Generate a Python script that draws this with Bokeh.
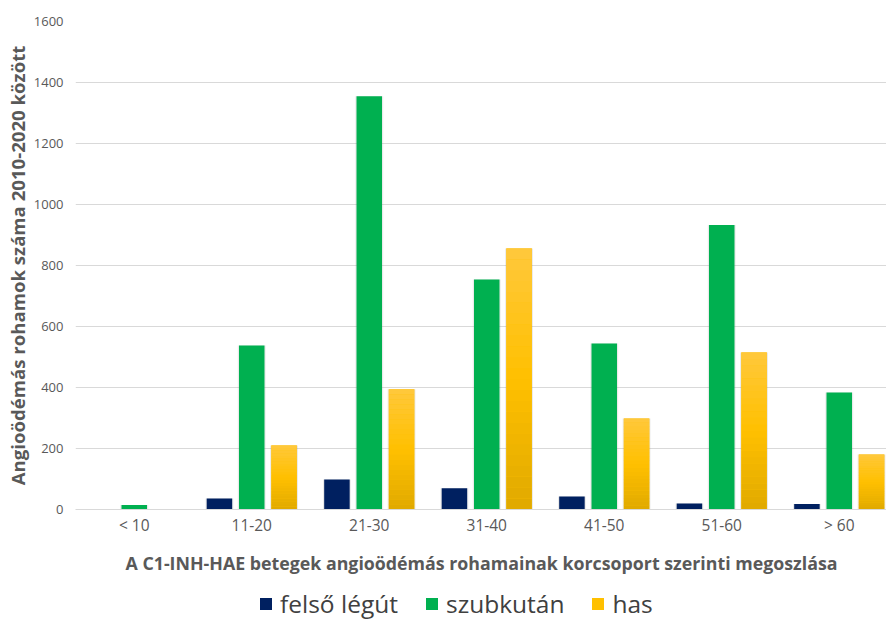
import numpy as np
from bokeh.plotting import figure
from bokeh.layouts import column
from bokeh.models import Range1d, FixedTicker, Legend, LegendItem
from bokeh.embed import file_html
from bokeh.resources import INLINE

# Attacks per age group, 2010-2020
age_groups = ["< 10", "11-20", "21-30", "31-40", "41-50", "51-60", "> 60"]
felso_legut = [0, 36, 98, 70, 43, 20, 18]
szubkutan = [15, 538, 1355, 754, 544, 933, 384]
has = [0, 210, 394, 856, 298, 515, 180]
series_names = ["felső légút", "szubkután", "has"]
y_ticks = [0, 200, 400, 600, 800, 1000, 1200, 1400, 1600]

FONT = "Open Sans"
TEXT_GREY = "#595959"
NAVY = "#002060"
GREEN = "#00B050"
GOLD = "#FFC000"

centers = np.arange(len(age_groups)) + 0.5
bar_w = 0.217
step = 0.275

p = figure(frame_width=812, frame_height=488,
           x_range=Range1d(0, 812 / 117.5), y_range=Range1d(0, 1600),
           output_backend="svg", toolbar_location=None,
           min_border_left=75, min_border_right=0,
           min_border_top=21, min_border_bottom=70)
p.outline_line_color = None
p.background_fill_color = "white"
p.border_fill_color = "white"

# soft halo drawn behind each bar
for offs, vals in ((-step, felso_legut), (0.0, szubkutan), (step, has)):
    p.vbar(x=centers + offs, top=vals, bottom=0, width=bar_w + 0.02,
           fill_color="#8c8c8c", fill_alpha=0.18, line_color=None)

p.vbar(x=centers - step, top=felso_legut, bottom=0, width=bar_w,
       fill_color=NAVY, line_color=None)
p.vbar(x=centers, top=szubkutan, bottom=0, width=bar_w,
       fill_color=GREEN, line_color=None)
p.vbar(x=centers + step, top=has, bottom=0, width=bar_w,
       fill_color=GOLD, line_color=None)

# vertical gradient on the gold bars: darker at the base, lighter at the top
stops = [(0.0, (0xE0, 0xA9, 0x00)), (0.5, (0xFF, 0xC0, 0x00)), (1.0, (0xFF, 0xC8, 0x3C))]
n_bands = 24
has_arr = np.array(has, dtype=float)
for k in range(n_bands):
    f0, f1 = k / n_bands, (k + 1) / n_bands
    fm = (f0 + f1) / 2
    if fm <= 0.5:
        t = fm / 0.5
        c0, c1 = stops[0][1], stops[1][1]
    else:
        t = (fm - 0.5) / 0.5
        c0, c1 = stops[1][1], stops[2][1]
    col = "#%02x%02x%02x" % tuple(int(round(a + (b - a) * t)) for a, b in zip(c0, c1))
    p.vbar(x=centers + step, top=has_arr * f1 + 0.5, bottom=has_arr * f0,
           width=bar_w, fill_color=col, line_color=None)

# axes
p.xaxis.ticker = FixedTicker(ticks=list(centers))
p.xaxis.major_label_overrides = {float(c): g for c, g in zip(centers, age_groups)}
p.yaxis.ticker = FixedTicker(ticks=y_ticks)

for ax in (p.xaxis[0], p.yaxis[0]):
    ax.major_tick_line_color = None
    ax.minor_tick_line_color = None
    ax.major_tick_out = 0
    ax.major_tick_in = 0
    ax.minor_tick_out = 0
    ax.minor_tick_in = 0
    ax.major_label_text_font = FONT
    ax.major_label_text_color = TEXT_GREY
    ax.axis_label_text_font = FONT
    ax.axis_label_text_font_style = "bold"
    ax.axis_label_text_color = TEXT_GREY

p.xaxis.axis_line_color = "#D9D9D9"
p.yaxis.axis_line_color = None
p.xaxis.major_label_text_font_size = "15.5px"
p.yaxis.major_label_text_font_size = "13px"
p.xaxis.major_label_standoff = 4
p.yaxis.major_label_standoff = 12

p.xaxis.axis_label = "A C1-INH-HAE betegek angioödémás rohamainak korcsoport szerinti megoszlása"
p.xaxis.axis_label_text_font_size = "17.8px"
p.xaxis.axis_label_standoff = 12
p.yaxis.axis_label = "Angioödémás rohamok száma 2010-2020 között"
p.yaxis.axis_label_text_font_size = "18.6px"
p.yaxis.axis_label_standoff = 1

p.xgrid.grid_line_color = None
p.ygrid.grid_line_color = "#D9D9D9"
p.ygrid.grid_line_width = 1

# legend strip underneath the chart; its swatch renderers are flat
# (zero-height) bars so only the legend itself is visible
strip_h = 625 - (21 + 488 + 70)
leg_fig = figure(width=886, height=strip_h,
                 x_range=Range1d(0, 1), y_range=Range1d(0, 1),
                 output_backend="svg", toolbar_location=None,
                 min_border_left=0, min_border_right=0,
                 min_border_top=0, min_border_bottom=0)
leg_fig.axis.visible = False
leg_fig.grid.visible = False
leg_fig.outline_line_color = None
leg_fig.border_fill_color = "white"
leg_fig.background_fill_color = "white"

swatches = []
for name, col in zip(series_names, (NAVY, GREEN, GOLD)):
    r = leg_fig.vbar(x=[0.5], top=[0], bottom=[0], width=0.01,
                     fill_color=col, line_color=None)
    swatches.append(LegendItem(label=name, renderers=[r]))

legend = Legend(items=swatches, orientation="horizontal", location=(183, 5),
                label_text_font=FONT, label_text_font_size="24.5px",
                label_text_color="#404040", label_text_baseline="middle",
                glyph_width=15, glyph_height=15, label_standoff=7, spacing=26,
                border_line_color=None, background_fill_alpha=0,
                margin=0, padding=0)
leg_fig.add_layout(legend, "center")

layout = column(p, leg_fig, spacing=0)
open("out.html", "w").write(file_html(layout, INLINE))
